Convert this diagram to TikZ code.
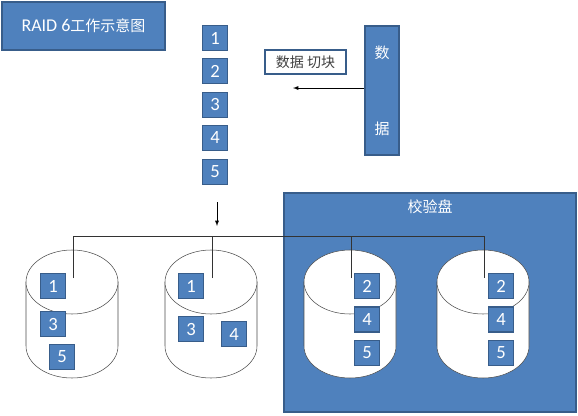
\documentclass[tikz,border=0pt]{standalone}
\usepackage{fontspec}
\setmainfont{Carlito}
\newfontfamily\cjk{Noto Sans CJK SC}
\usetikzlibrary{positioning}
\definecolor{raidblue}{HTML}{4F81BD}
\definecolor{raidedge}{HTML}{385D8A}
\tikzset{
  blk/.style={draw=raidedge, fill=raidblue, line width=1pt, text=white,
    minimum size=18.75pt, inner sep=0pt, font=\fontsize{14}{16}\selectfont},
  bluebox/.style={draw=raidedge, fill=raidblue, line width=1.2pt, text=white, inner sep=0pt},
}
\begin{document}
\begin{tikzpicture}[x=0.75pt,y=-0.75pt]
\useasboundingbox (0,0) rectangle (578,415);

\node[bluebox, minimum width=122.25pt, minimum height=36pt] (title) at (83.5,26)
  {\fontsize{13.5}{15}\selectfont RAID 6{\cjk\fontsize{11.25}{14}\selectfont 工作示意图}};

\foreach \k/\y in {1/38,2/71,3/105,4/138,5/172}
  \node[blk] (s\k) at (215,\y) {\k};

\node[draw=raidedge, fill=white, line width=1.2pt, minimum width=60.75pt, minimum height=18pt,
  inner sep=0pt, text=black!75, font=\cjk\fontsize{10.5}{12}\selectfont] (cut) at (305.5,62) {数据 切块};
\node[bluebox, minimum width=25.5pt, minimum height=96.75pt, align=center,
  font=\cjk\fontsize{11.25}{14}\selectfont] (data) at (382,90.5) {数\\[43pt]据};
\coordinate (cutend) at (293,88);
\draw[-latex] (cutend -| data.west) -- (cutend);

\coordinate (split) at (217,202);
\draw[-latex] (split) -- ++(0,24);

\node[bluebox, minimum width=219pt, minimum height=164.25pt] (parity) at (430,302.5) {};
\node[text=white, font=\cjk\fontsize{11.25}{14}\selectfont] (paritylbl) at (430,207) {校验盘};

\foreach \n/\cx in {A/72,B/211,C/350,D/483} {
  \draw[fill=white, draw=black!70] (\cx-46,282) -- (\cx-46,346)
    arc[start angle=180, end angle=0, x radius=46, y radius=32] -- (\cx+46,282) -- cycle;
  \draw[fill=white, draw=black!70] (\cx,282) ellipse [x radius=46, y radius=32];
  \coordinate (t\n) at (\cx+1,278);
}

\coordinate (bus) at (0,236);
\draw[black!80] (tA) -- (tA |- bus) -| (tD);
\draw[black!80] (tB) -- (tB |- bus);
\draw[black!80] (tC) -- (tC |- bus);

\node[blk] (a1) at (53,286) {1};
\node[blk] (a3) at (53,324) {3};
\node[blk] (a5) at (62,357) {5};
\node[blk] (b1) at (191,286) {1};
\node[blk] (b3) at (191,329) {3};
\node[blk] (b4) at (234,334) {4};
\foreach \d/\x in {c/367,d/501} {
  \node[blk] (\d2) at (\x,286) {2};
  \node[blk] (\d4) at (\x,319.5) {4};
  \node[blk] (\d5) at (\x,353) {5};
}
\end{tikzpicture}
\end{document}
